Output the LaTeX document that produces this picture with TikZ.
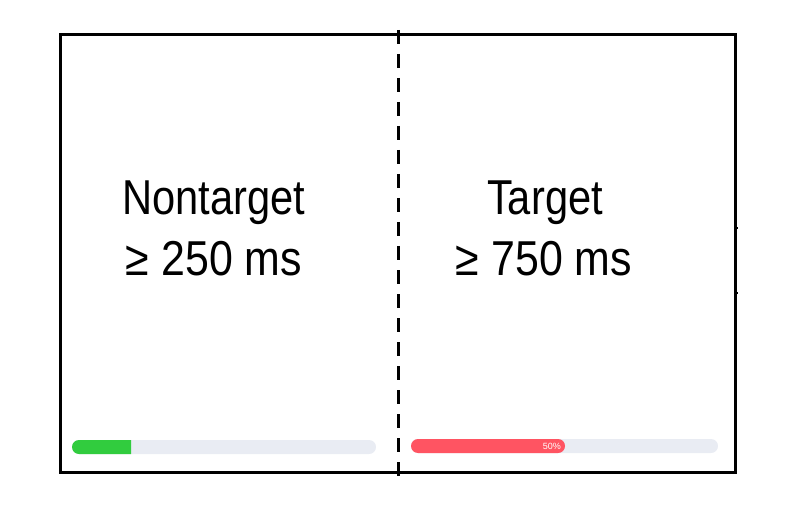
\documentclass[tikz,border=0pt]{standalone}
\usepackage{fontspec}
\setmainfont{Liberation Sans}
\usepackage{xcolor}
\usetikzlibrary{positioning}

\definecolor{barTrack}{HTML}{E9ECF3}
\definecolor{barGreen}{HTML}{31CC3E}
\definecolor{barRed}{HTML}{FF5462}

\tikzset{
    bigLabel/.style={font=\fontsize{49}{60}\selectfont, xscale=0.85, inner sep=0pt, anchor=base},
    frameLine/.style={line width=3pt, line join=miter},
    splitLine/.style={line width=3pt, dash pattern=on 14pt off 10pt}
}

\begin{document}
\begin{tikzpicture}[x=1pt, y=-1pt]
        \useasboundingbox (0,0) rectangle (791,510);

        % Parameters
        \def\barTop{440}          % top of the progress bars
        \def\barHeight{14}        % height of a bar
        \def\barRadius{7}         % round ends

        % Frame
        \draw[frameLine] (60,35) rectangle (735,472);
        \draw[line width=2pt] (735,228) -- (738,228);
        \draw[line width=2pt] (735,293) -- (738,293);

        % Split between the two screens
        \coordinate (splitTop) at (398.5,30);
        \coordinate (splitBottom) at (398.5,478);
        \draw[splitLine] (splitTop) -- (splitBottom);

        % Text
        \node[bigLabel] (nontarget) at (214,215) {Nontarget};
        \node[bigLabel, xscale=1.03] (nontargetTime) at (214,275) {≥ 250 ms};
        \node[bigLabel] (target) at (545,215) {Target};
        \node[bigLabel, xscale=1.03] (targetTime) at (544,275) {≥ 750 ms};

        % Left progress bar
        \fill[barTrack, rounded corners=\barRadius] (72,\barTop) rectangle (376,\barTop+\barHeight);
        \fill[barGreen] (131,\barTop) [rounded corners=\barRadius] -- (72,\barTop) -- (72,\barTop+\barHeight) [sharp corners] -- (131,\barTop+\barHeight) -- cycle;

        % Right progress bar
        \fill[barTrack, rounded corners=\barRadius] (411,\barTop-1) rectangle (718,\barTop+\barHeight-1);
        \fill[barRed, rounded corners=\barRadius] (411,\barTop-1) rectangle (565,\barTop+\barHeight-1);
        \node[text=white, font=\fontsize{9}{10}\selectfont, inner sep=0pt, anchor=east] (progress) at (561,\barTop+6) {50\%};

\end{tikzpicture}
\end{document}
